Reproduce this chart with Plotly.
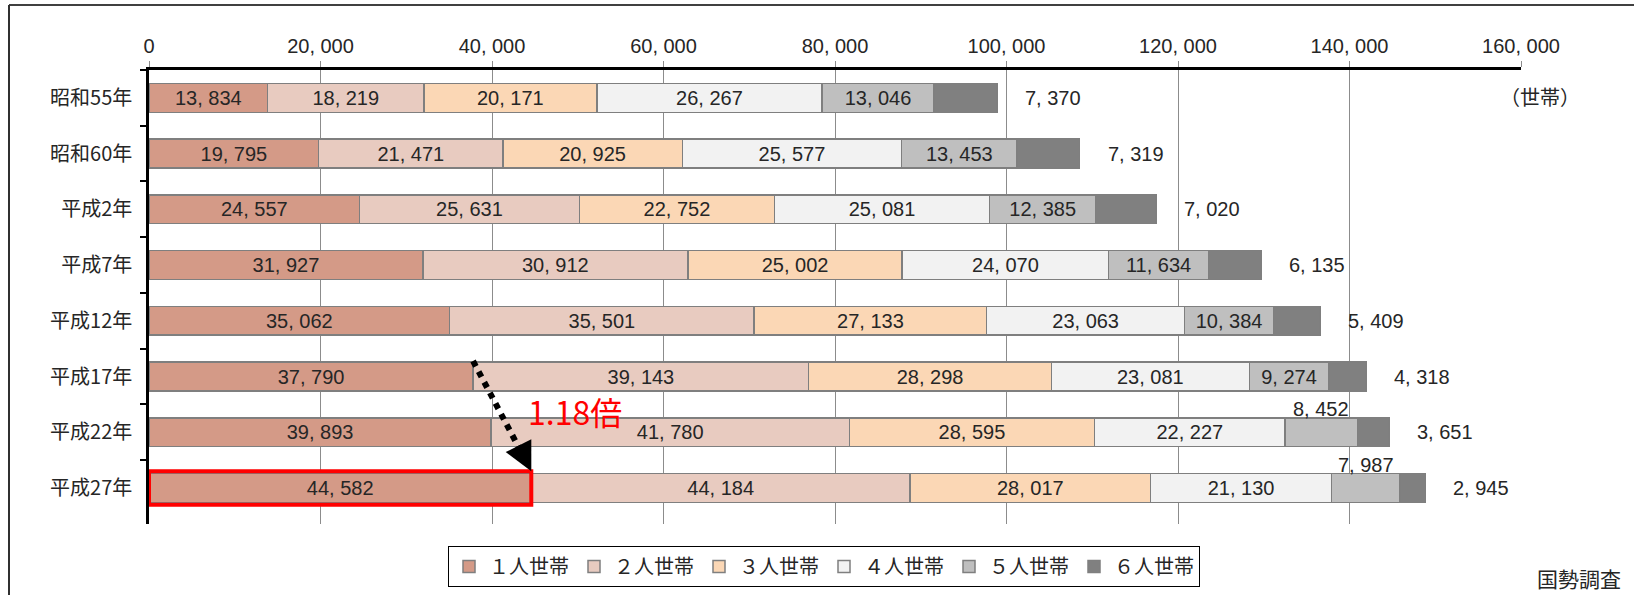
import plotly.graph_objects as go

categories = ["昭和55年", "昭和60年", "平成2年", "平成7年", "平成12年", "平成17年", "平成22年", "平成27年"]
series_names = ["１人世帯", "２人世帯", "３人世帯", "４人世帯", "５人世帯", "６人世帯"]
one_person = [13834, 19795, 24557, 31927, 35062, 37790, 39893, 44582]
two_person = [18219, 21471, 25631, 30912, 35501, 39143, 41780, 44184]
three_person = [20171, 20925, 22752, 25002, 27133, 28298, 28595, 28017]
four_person = [26267, 25577, 25081, 24070, 23063, 23081, 22227, 21130]
five_person = [13046, 13453, 12385, 11634, 10384, 9274, 8452, 7987]
six_person = [7370, 7319, 7020, 6135, 5409, 4318, 3651, 2945]
x_tick_values = [0, 20000, 40000, 60000, 80000, 100000, 120000, 140000, 160000]
colors = ["#D49A87", "#E8CBC0", "#FBD7B5", "#F2F2F2", "#BFBFBF", "#808080"]
unit_label = "（世帯）"
source_label = "国勢調査"

series = [one_person, two_person, three_person, four_person, five_person, six_person]


def fmt(v):
    return f"{v:,}".replace(",", ", ")


NUM_FONT = "Liberation Sans, Arial, sans-serif"
JP_FONT = "Noto Sans CJK JP, sans-serif"
TXT = "#262626"
NUM_SIZE = 20
INSIDE_MIN = 9000  # segments smaller than this get their label above the bar

fig = go.Figure()
for i, (name, vals, col) in enumerate(zip(series_names, series, colors)):
    if i == 5:
        texts = ["" for _ in vals]
    elif i == 4:
        texts = [fmt(v) if v >= INSIDE_MIN else "" for v in vals]
    else:
        texts = [fmt(v) for v in vals]
    fig.add_trace(go.Bar(
        y=categories, x=vals, name=name, orientation="h",
        marker=dict(color=col, line=dict(color="#7F7F7F", width=1.5)),
        text=texts, textposition="inside", insidetextanchor="middle",
        textangle=0, insidetextfont=dict(family=NUM_FONT, size=NUM_SIZE, color=TXT),
        hoverinfo="skip",
    ))

annotations = []
for idx, cat in enumerate(categories):
    total = sum(s[idx] for s in series)
    annotations.append(dict(x=total, y=idx, xref="x", yref="y", text=fmt(six_person[idx]),
                            showarrow=False, xanchor="left", yanchor="middle", xshift=26,
                            font=dict(family=NUM_FONT, size=NUM_SIZE, color=TXT)))
    if five_person[idx] < INSIDE_MIN:
        start = sum(s[idx] for s in series[:4])
        annotations.append(dict(x=start + five_person[idx] / 2, y=idx, xref="x", yref="y",
                                text=fmt(five_person[idx]), showarrow=False,
                                xanchor="center", yanchor="middle",
                                yshift=23, font=dict(family=NUM_FONT, size=NUM_SIZE, color=TXT)))

# ratio annotation & arrow
i_from = categories.index("平成17年")
i_to = categories.index("平成27年")
x_from = one_person[i_from]
x_to = one_person[i_to]
ratio = x_to / x_from
half_bar = 0.2585
y_from = i_from - half_bar - 0.02
y_to = i_to - 0.30

annotations.append(dict(x=(x_from + x_to) / 2, y=(y_from + y_to) / 2, xref="x", yref="y",
                        text=f"{ratio:.2f}倍", showarrow=False, xanchor="left", yanchor="middle",
                        xshift=24, yshift=5,
                        font=dict(family=JP_FONT, size=32, color="#FF0000")))
annotations.append(dict(x=x_to, y=y_to, xref="x", yref="y", text="", showarrow=True,
                        ax=-9, ay=-18, axref="pixel", ayref="pixel",
                        arrowhead=2, arrowsize=2.6, arrowwidth=2.2, arrowcolor="#000000"))

annotations.append(dict(x=1540, y=96, xref="paper", yref="paper", text=unit_label, showarrow=False,
                        xanchor="center", yanchor="middle",
                        font=dict(family=JP_FONT, size=20, color=TXT)))
annotations.append(dict(x=1579, y=578, xref="paper", yref="paper", text=source_label, showarrow=False,
                        xanchor="center", yanchor="middle",
                        font=dict(family=JP_FONT, size=21, color=TXT)))

W, H = 1634, 595
ML, MR, MT, MB = 149, 113, 70, 71
PW, PH = W - ML - MR, H - MT - MB


def px_to_paper_x(px):
    return (px - ML) / PW


def px_to_paper_y(py):
    return (H - MB - py) / PH


for a in annotations:
    if a.get("xref") == "paper":
        a["x"] = px_to_paper_x(a["x"])
        a["y"] = px_to_paper_y(a["y"])

shapes = [
    dict(type="line", xref="x", yref="y", x0=x_from, y0=y_from, x1=x_to - 400, y1=y_to - 0.12,
         line=dict(color="#000000", width=6, dash="dot")),
    dict(type="rect", xref="x", yref="y", x0=0, x1=x_to, y0=i_to - 0.30, y1=i_to + 0.30,
         line=dict(color="#FF0000", width=4), layer="above"),
    dict(type="line", xref="paper", yref="paper", x0=px_to_paper_x(9), x1=px_to_paper_x(W),
         y0=px_to_paper_y(5), y1=px_to_paper_y(5), line=dict(color="#404040", width=2)),
    dict(type="line", xref="paper", yref="paper", x0=px_to_paper_x(9), x1=px_to_paper_x(9),
         y0=px_to_paper_y(5), y1=px_to_paper_y(H), line=dict(color="#303030", width=2)),
]

fig.update_layout(
    width=W, height=H, autosize=False,
    margin=dict(l=ML, r=MR, t=MT, b=MB, pad=0, autoexpand=False),
    barmode="stack", bargap=0.483,
    paper_bgcolor="white", plot_bgcolor="white",
    showlegend=True,
    legend=dict(orientation="h", x=px_to_paper_x(824), xanchor="center",
                y=px_to_paper_y(546), yanchor="top", traceorder="normal",
                bordercolor="#000000", borderwidth=1, bgcolor="white",
                font=dict(family=JP_FONT, size=20, color=TXT), itemwidth=30),
    xaxis=dict(side="top", range=[0, 160000], tickvals=x_tick_values,
               ticktext=[fmt(v) for v in x_tick_values],
               showgrid=True, gridcolor="#8C8C8C", gridwidth=1, zeroline=False,
               showline=True, linecolor="#000000", linewidth=3,
               ticks="outside", ticklen=6, tickcolor="#8C8C8C", tickwidth=1,
               tickfont=dict(family=NUM_FONT, size=NUM_SIZE, color=TXT), fixedrange=True),
    yaxis=dict(autorange="reversed", type="category", showgrid=False, zeroline=False,
               showline=True, linecolor="#000000", linewidth=2.5,
               ticks="outside", tickson="boundaries", ticklen=6, tickcolor="#000000", tickwidth=2,
               ticklabelstandoff=10,
               tickfont=dict(family=JP_FONT, size=20, color=TXT), fixedrange=True),
    uniformtext=dict(minsize=NUM_SIZE, mode="show"),
    annotations=annotations,
    shapes=shapes,
)

fig.write_html("out.html", post_script="document.body.style.margin='0';",
               config={"displayModeBar": False})
